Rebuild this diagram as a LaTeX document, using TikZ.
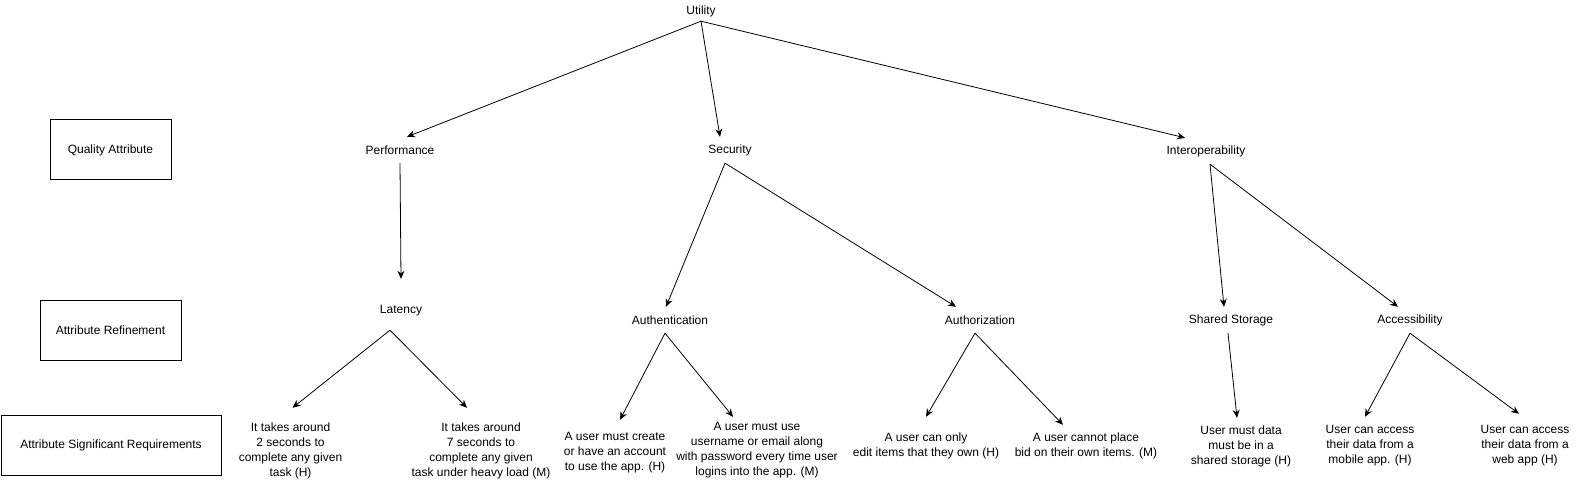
\documentclass[tikz,border=0pt]{standalone}
\usepackage{fontspec}
\setmainfont{Liberation Sans}
\usetikzlibrary{arrows.meta}
\tikzstyle{level} = [draw, line width=1pt, minimum height=60pt]
\tikzstyle{attr} = [inner sep=0pt, minimum height=26pt]
\tikzstyle{req} = [inner sep=0pt, align=center]
\tikzstyle{flow} = [draw, line width=0.8pt, -{Stealth[length=8pt, width=7pt]}]

\begin{document}
\begin{tikzpicture}[x=1pt, y=-1pt, font=\fontsize{12}{15}\selectfont]
	\useasboundingbox (0,0) rectangle (1581,486);

	\node[level, minimum width=121pt] (qualityBox) at (110.5,150) {Quality Attribute};
	\node[level, minimum width=141pt] (refinementBox) at (110.5,330) {Attribute Refinement};
	\node[level, minimum width=220pt] (requirementBox) at (111,445) {Attribute Significant Requirements};

	\node[attr, minimum height=20pt] (utility) at (701,11) {Utility};
	\node[attr] (performance) at (400,150) {Performance};
	\node[attr] (security) at (730,150) {Security};
	\node[attr] (interop) at (1206,151) {Interoperability};

	\node[attr, minimum height=38pt] (latency) at (401,311) {Latency};
	\node[attr] (authentication) at (670,320) {Authentication};
	\node[attr] (authorization) at (980,320) {Authorization};
	\node[attr] (sharedStorage) at (1231,320) {Shared Storage};
	\node[attr] (accessibility) at (1410,320) {Accessibility};

	\node[req, minimum height=85pt] (latencyFast) at (290.5,450.5) {It takes around\\2 seconds to\\complete any given\\task (H)};
	\node[req, minimum height=85pt] (latencyLoad) at (481,450.5) {It takes around\\7 seconds to\\complete any given\\task under heavy load (M)};
	\node[req, minimum height=66pt] (authAccount) at (615,453) {A user must create\\or have an account\\to use the app. (H)};
	\node[req, minimum height=66pt] (authLogin) at (757,450) {A user must use\\username or email along\\with password every time user\\logins into the app. (M)};
	\node[req, minimum height=57pt] (authzEdit) at (926,445.5) {A user can only\\edit items that they own (H)};
	\node[req, minimum height=41pt] (authzBid) at (1086,445.5) {A user cannot place\\bid on their own items. (M)};
	\node[req, minimum height=56pt] (storageReq) at (1241,446) {User must data\\must be in a\\shared storage (H)};
	\node[req, minimum height=58pt] (mobileReq) at (1370,446) {User can access\\their data from a\\mobile app. (H)};
	\node[req, minimum height=64pt] (webReq) at (1525,446) {User can access\\their data from a\\web app (H)};

	\path[flow] (utility.south) -- ([xshift=7pt]performance.north);
	\path[flow] (utility.south) -- ([xshift=-10pt]security.north);
	\path[flow] (utility.south) -- ([xshift=-21pt]interop.north);
	\path[flow] (performance.south) -- ([yshift=13pt]latency.north);
	\path[flow] ([xshift=-5pt]security.south) -- ([xshift=-4pt]authentication.north);
	\path[flow] ([xshift=-5pt]security.south) -- ([xshift=-24pt]authorization.north);
	\path[flow] ([xshift=4pt]interop.south) -- ([xshift=-7pt]sharedStorage.north);
	\path[flow] ([xshift=4pt]interop.south) -- ([xshift=-12pt]accessibility.north);
	\path[flow] ([xshift=-11pt]latency.south) -- ([xshift=2pt]latencyFast.north);
	\path[flow] ([xshift=-11pt]latency.south) -- ([xshift=-14pt]latencyLoad.north);
	\path[flow] ([xshift=-5pt]authentication.south) -- ([xshift=5pt]authAccount.north);
	\path[flow] ([xshift=-5pt]authentication.south) -- ([xshift=-24pt]authLogin.north);
	\path[flow] ([xshift=-5pt]authorization.south) -- (authzEdit.north);
	\path[flow] ([xshift=-5pt]authorization.south) -- ([xshift=-23pt]authzBid.north);
	\path[flow] ([xshift=-3pt]sharedStorage.south) -- ([xshift=-4pt]storageReq.north);
	\path[flow] (accessibility.south) -- ([xshift=-5pt]mobileReq.north);
	\path[flow] (accessibility.south) -- ([xshift=-6pt]webReq.north);
\end{tikzpicture}
\end{document}
